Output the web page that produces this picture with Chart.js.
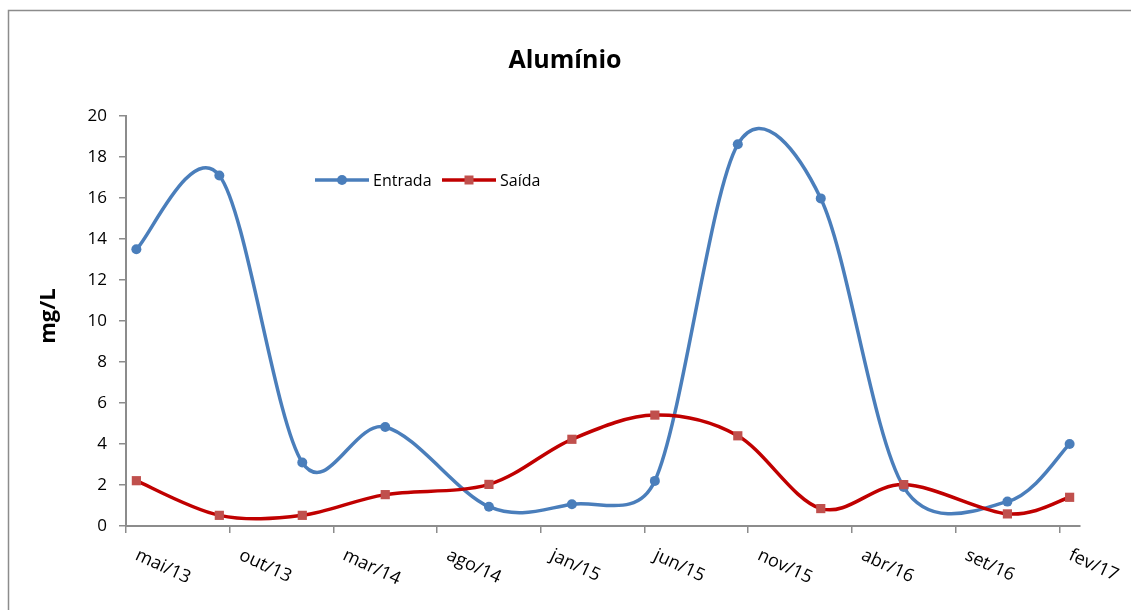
<!DOCTYPE html>
<html>
<head>
<meta charset="utf-8">
<script src="https://cdn.jsdelivr.net/npm/chart.js@4"></script>
<style>
  body { margin: 0; background: #fff; }
  canvas { display: block; }
</style>
</head>
<body>
<canvas id="chart" width="1131" height="610"></canvas>
<script>
// Alumínio - entrada x saída (mg/L)

const meses = ['jan', 'fev', 'mar', 'abr', 'mai', 'jun', 'jul', 'ago', 'set', 'out', 'nov', 'dez'];

const datas = ['mai/13', 'set/13', 'jan/14', 'mai/14', 'out/14', 'fev/15', 'jun/15', 'out/15', 'fev/16', 'jun/16', 'nov/16', 'fev/17'];
const entrada = [13.5, 17.1, 3.1, 4.83, 0.94, 1.06, 2.2, 18.62, 15.98, 1.9, 1.19, 4.0];
const saida = [2.21, 0.52, 0.52, 1.53, 2.03, 4.23, 5.41, 4.4, 0.85, 2.02, 0.59, 1.4];

const xTickLabels = ['mai/13', 'out/13', 'mar/14', 'ago/14', 'jan/15', 'jun/15', 'nov/15', 'abr/16', 'set/16', 'fev/17'];
const yTicks = [0, 2, 4, 6, 8, 10, 12, 14, 16, 18, 20];

const AZUL = '#4A7EBB';
const VERMELHO = '#C00000';
const MARCA_VERM = '#C0504D';
const CINZA = '#8c8c8c';
const FONTE = '"Open Sans", "Noto Sans", sans-serif';

// months counted from mai/13
function mesIndex(label) {
    const [m, a] = label.split('/');
    return (parseInt(a, 10) - 13) * 12 + meses.indexOf(m) - 4;
}

const primeiro = mesIndex(datas[0]);
const ultimo = mesIndex(datas[datas.length - 1]);

function dist(a, b) {
    return Math.hypot(b.x - a.x, b.y - a.y);
}

// excel-like smoothing: control arms of 1/6, shortened on short segments
const suavizacao = {
    id: 'suavizacao',
    beforeDatasetDraw(chart, args) {
        const line = args.meta.dataset;
        if (!line) return;
        line.updateControlPoints(chart.chartArea, 'x');
        const pts = line.points;
        const n = pts.length;
        for (let i = 0; i < n - 1; i++) {
            const p0 = pts[Math.max(i - 1, 0)];
            const p1 = pts[i];
            const p2 = pts[i + 1];
            const p3 = pts[Math.min(i + 2, n - 1)];
            const d02 = dist(p0, p2), d12 = dist(p1, p2), d13 = dist(p1, p3);
            const f1 = (d02 / 6 < d12 / 2) ? 1 / 6 : d12 / (2 * d02);
            const f2 = (d13 / 6 < d12 / 2) ? 1 / 6 : d12 / (2 * d13);
            p1.cp2x = p1.x + f1 * (p2.x - p0.x);
            p1.cp2y = p1.y + f1 * (p2.y - p0.y);
            p2.cp1x = p2.x - f2 * (p3.x - p1.x);
            p2.cp1y = p2.y - f2 * (p3.y - p1.y);
        }
        line._path = undefined;
    }
};

const moldura = {
    id: 'moldura',
    beforeDraw(chart) {
        const ctx = chart.ctx;
        ctx.save();
        ctx.fillStyle = '#fff';
        ctx.fillRect(0, 0, chart.width, chart.height);
        ctx.strokeStyle = CINZA;
        ctx.lineWidth = 1.5;
        ctx.strokeRect(8.5, 10.5, 1200, 700);
        ctx.restore();
    },
    afterDraw(chart) {
        const ctx = chart.ctx;
        const xs = chart.scales.x;
        ctx.save();
        ctx.fillStyle = '#000';

        // title
        ctx.font = 'bold 25px ' + FONTE;
        ctx.textAlign = 'center';
        ctx.textBaseline = 'alphabetic';
        ctx.fillText('Alumínio', 565, 68);

        // y title
        ctx.save();
        ctx.translate(55, 316);
        ctx.rotate(-Math.PI / 2);
        ctx.font = 'bold 22px ' + FONTE;
        ctx.fillText('mg/L', 0, 0);
        ctx.restore();

        // rotated x labels
        ctx.font = '18px ' + FONTE;
        ctx.textAlign = 'left';
        xTickLabels.forEach(l => {
            const x = xs.getPixelForValue(mesIndex(l));
            ctx.save();
            ctx.translate(x - 2, 559);
            ctx.rotate(25 * Math.PI / 180);
            ctx.fillText(l, 0, 0);
            ctx.restore();
        });

        // legend
        const itens = [
            { nome: 'Entrada', cor: AZUL, marca: AZUL, x: 315 },
            { nome: 'Saída', cor: VERMELHO, marca: MARCA_VERM, x: 442 }
        ];
        const ly = 180;
        itens.forEach((it, i) => {
            ctx.strokeStyle = it.cor;
            ctx.lineWidth = 3.5;
            ctx.beginPath();
            ctx.moveTo(it.x, ly);
            ctx.lineTo(it.x + 54, ly);
            ctx.stroke();
            ctx.fillStyle = it.marca;
            ctx.beginPath();
            if (i === 0) {
                ctx.arc(it.x + 27, ly, 5, 0, Math.PI * 2);
            } else {
                ctx.rect(it.x + 22.5, ly - 4.5, 9, 9);
            }
            ctx.fill();
            ctx.fillStyle = '#000';
            ctx.font = '16px ' + FONTE;
            ctx.textBaseline = 'middle';
            ctx.fillText(it.nome, it.x + 58, ly + 1);
        });
        ctx.restore();
    }
};

new Chart(document.getElementById('chart'), {
    type: 'line',
    data: {
        datasets: [
            {
                label: 'Entrada',
                data: datas.map((d, i) => ({ x: mesIndex(d), y: entrada[i] })),
                borderColor: AZUL,
                backgroundColor: AZUL,
                borderWidth: 3.5,
                pointStyle: 'circle',
                pointRadius: 5,
                pointBorderWidth: 0,
                pointBackgroundColor: AZUL,
                tension: 0.4,
                order: 1
            },
            {
                label: 'Saída',
                data: datas.map((d, i) => ({ x: mesIndex(d), y: saida[i] })),
                borderColor: VERMELHO,
                backgroundColor: MARCA_VERM,
                borderWidth: 3.5,
                pointStyle: 'rect',
                pointRadius: 6.5,
                pointBorderWidth: 0,
                pointBackgroundColor: MARCA_VERM,
                tension: 0.4,
                order: 0
            }
        ]
    },
    options: {
        responsive: false,
        animation: false,
        devicePixelRatio: 1,
        layout: { padding: { left: 0, right: 51, top: 116, bottom: 84 } },
        plugins: {
            legend: { display: false },
            title: { display: false },
            tooltip: { enabled: false }
        },
        scales: {
            x: {
                type: 'linear',
                min: primeiro - 0.5,
                max: ultimo + 0.5,
                afterBuildTicks: scale => {
                    scale.ticks = xTickLabels.map(l => ({ value: mesIndex(l) - 0.5 }));
                },
                afterFit: scale => { scale.height = 0; },
                ticks: { display: false },
                grid: { drawOnChartArea: false, drawTicks: true, tickLength: 7, color: CINZA, lineWidth: 1.5 },
                border: { color: CINZA, width: 2 }
            },
            y: {
                min: yTicks[0],
                max: yTicks[yTicks.length - 1],
                afterBuildTicks: scale => {
                    scale.ticks = yTicks.map(v => ({ value: v }));
                },
                afterFit: scale => { scale.width = 126; },
                ticks: { color: '#000', font: { family: FONTE, size: 17 }, padding: 12 },
                grid: { drawOnChartArea: false, drawTicks: true, tickLength: 7, color: CINZA, lineWidth: 1.5 },
                border: { color: CINZA, width: 2 }
            }
        }
    },
    plugins: [suavizacao, moldura]
});
</script>
</body>
</html>
